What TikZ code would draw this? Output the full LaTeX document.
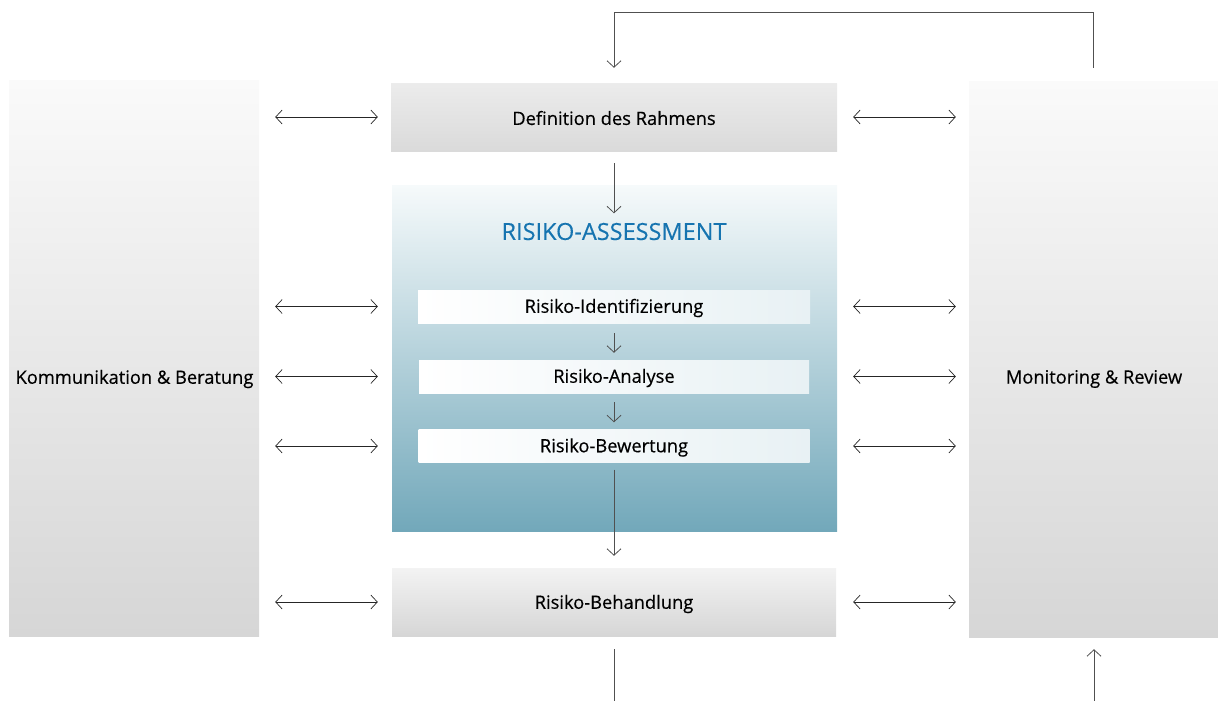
\documentclass[tikz,border=0pt]{standalone}
\usepackage{fontspec}
\setmainfont{Open Sans}
\usetikzlibrary{arrows.meta}
\definecolor{titleblue}{RGB}{22,116,176}
\definecolor{tealbot}{RGB}{114,168,186}
\definecolor{tealtop}{RGB}{246,250,251}
\definecolor{graytop}{RGB}{250,250,250}
\definecolor{graybot}{RGB}{214,214,214}
\definecolor{linegray}{RGB}{80,80,80}
\definecolor{subright}{RGB}{232,241,244}
\newcommand{\lblfont}{\fontsize{18.3}{21}\selectfont\addfontfeature{FakeBold=0.4}}
\tikzset{
  col/.style={rectangle, inner sep=0pt, top color=graytop, bottom color=graybot, minimum width=250pt, minimum height=556pt},
  lbl/.style={font=\lblfont, text=black, inner sep=0pt},
  stepbox/.style={rectangle, inner sep=0pt, top color=graytop!60!graybot, bottom color=graybot!90!white, minimum width=445pt, minimum height=68pt, font=\lblfont},
  subbox/.style={rectangle, inner sep=0pt, left color=white, right color=subright, minimum width=392pt, minimum height=33pt, font=\lblfont},
  dbl/.style={draw=black!85, line width=0.7pt, {Straight Barb[length=6.5pt,width=14pt]}-{Straight Barb[length=6.5pt,width=14pt]}},
  arr/.style={draw=linegray, line width=0.8pt, -{Straight Barb[length=6.5pt,width=14pt]}},
  ln/.style={draw=linegray, line width=0.8pt},
}
\begin{document}
\begin{tikzpicture}[x=1pt,y=-1pt]
\useasboundingbox (0,0) rectangle (1218,701);
% columns
\node[col] (L) at (134,358.5) {};
\node[col, minimum width=249pt] (R) at (1093.5,359) {};
% center boxes
\node[stepbox, minimum width=446pt] (D) at (614,117) {};
\node[lbl] (Dt) at (614,118) {Definition des Rahmens};
\node[rectangle, inner sep=0pt, top color=tealtop, bottom color=tealbot, minimum width=445pt, minimum height=346pt] (A) at (614.5,358) {};
\node[text=titleblue, font=\fontsize{23.5}{26}\selectfont\addfontfeature{FakeBold=0.3}] (T) at (614,231.5) {RISIKO-ASSESSMENT};
\node[subbox] (I) at (614,306.5) {};
\node[subbox, minimum width=390pt] (N) at (614,376.5) {};
\node[subbox, minimum width=391pt] (W) at (614,446) {};
\node[lbl] (It) at (614,308) {Risiko-Identifizierung};
\node[lbl] (Nt) at (614,378) {Risiko-Analyse};
\node[lbl] (Wt) at (614,447.5) {Risiko-Bewertung};
\node[stepbox, minimum width=444pt, top color=graytop!80!graybot, bottom color=graybot] (B) at (614,602) {};
\node[lbl] (Bt) at (614,604) {Risiko-Behandlung};
\node[lbl] (Lt) at (134.5,379) {Kommunikation \& Beratung};
\node[lbl] (Rt) at (1094,379) {Monitoring \& Review};
% vertical flow
\draw[arr, shorten <=12pt, shorten >=6pt] (D.south) -- (T.north);
\draw[arr, shorten <=10pt, shorten >=7pt] (I.south) -- (N.north);
\draw[arr, shorten <=9pt, shorten >=7pt] (N.south) -- (W.north);
\draw[arr, shorten <=7pt, shorten >=12pt] (W.south) -- (B.north);
% feedback loop
\coordinate (top) at (0,12);
\draw[arr, shorten <=13pt, shorten >=15pt] (R.north) -- (R.north |- top) -- (D.north |- top) -- (D.north);
% bottom stubs
\coordinate (bl) at (614,701);
\coordinate (br) at (1094,701);
\draw[ln, shorten <=13pt] (B.south) -- (bl);
\draw[arr, shorten >=12pt] (br) -- (br |- R.south);
% double arrows left
\draw[dbl, shorten <=16pt, shorten >=13pt] (L.east |- D.west) -- (D.west);
\draw[dbl, shorten <=16pt, shorten >=14pt] (L.east |- I.west) -- (A.west |- I.west);
\draw[dbl, shorten <=16pt, shorten >=14pt] (L.east |- N.west) -- (A.west |- N.west);
\draw[dbl, shorten <=16pt, shorten >=14pt] (L.east |- W.west) -- (A.west |- W.west);
\draw[dbl, shorten <=16pt, shorten >=14pt] (L.east |- B.west) -- (B.west);
% double arrows right
\draw[dbl, shorten <=16pt, shorten >=13pt] (D.east) -- (R.west |- D.east);
\draw[dbl, shorten <=16pt, shorten >=13pt] (A.east |- I.east) -- (R.west |- I.east);
\draw[dbl, shorten <=16pt, shorten >=13pt] (A.east |- N.east) -- (R.west |- N.east);
\draw[dbl, shorten <=16pt, shorten >=13pt] (A.east |- W.east) -- (R.west |- W.east);
\draw[dbl, shorten <=17pt, shorten >=13pt] (B.east) -- (R.west |- B.east);
\end{tikzpicture}
\end{document}
